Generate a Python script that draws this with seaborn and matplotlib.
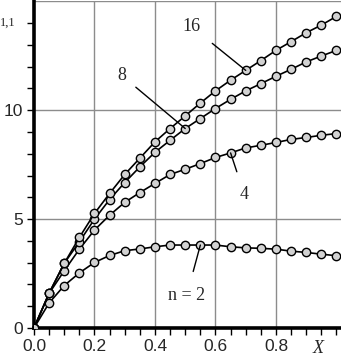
import numpy as np
import pandas as pd
import matplotlib
matplotlib.use("Agg")
import matplotlib.pyplot as plt
import seaborn as sns

# wartości
x_vals = [0.0, 0.05, 0.1, 0.15, 0.2, 0.25, 0.3, 0.35, 0.4, 0.45, 0.5,
          0.55, 0.6, 0.65, 0.7, 0.75, 0.8, 0.85, 0.9, 0.95, 1.0]
n2 = [0.0, 1.15, 1.95, 2.53, 3.01, 3.33, 3.55, 3.63, 3.73, 3.81, 3.81,
      3.81, 3.81, 3.73, 3.68, 3.66, 3.62, 3.53, 3.47, 3.39, 3.32]
n4 = [0.0, 1.59, 2.63, 3.62, 4.5, 5.18, 5.77, 6.22, 6.64, 7.05, 7.29,
      7.55, 7.83, 8.04, 8.27, 8.39, 8.52, 8.66, 8.75, 8.85, 8.93]
n8 = [0.0, 1.6, 2.97, 3.96, 5.0, 5.9, 6.68, 7.4, 8.07, 8.62, 9.16,
      9.62, 10.08, 10.5, 10.89, 11.22, 11.56, 11.88, 12.22, 12.49, 12.75]
n16 = [0.0, 1.6, 2.97, 4.16, 5.26, 6.18, 7.05, 7.8, 8.55, 9.16, 9.74,
       10.33, 10.89, 11.38, 11.83, 12.28, 12.75, 13.15, 13.56, 13.91, 14.31]
x_ticks = [0.0, 0.2, 0.4, 0.6, 0.8]
x_tick_labels = ["0.0", "0.2", "0.4", "0.6", "0.8"]
y_ticks = [0, 5, 10]

df = pd.DataFrame({
    "X": x_vals * 4,
    "val": n2 + n4 + n8 + n16,
    "n": ["2"] * 21 + ["4"] * 21 + ["8"] * 21 + ["16"] * 21,
})

sns.set_style("white")
fig = plt.figure(figsize=(3.41, 3.58), dpi=100)
ax = fig.add_axes([34 / 341, 30 / 358, 1 - 34 / 341, 1 - 30 / 358 - 0.002])

sns.lineplot(data=df, x="X", y="val", hue="n", palette=["black"] * 4,
             marker="o", markersize=6, markerfacecolor="#d2d2d2",
             markeredgecolor="black", markeredgewidth=1.0, linewidth=1.2,
             legend=False, ax=ax, zorder=3)

ax.set_xlim(0, 1.015)
ax.set_ylim(0, 15.03)
ax.set_xticks(x_ticks)
ax.set_xticklabels(x_tick_labels)
ax.set_xticks(np.arange(0, 1.01, 0.05), minor=True)
ax.set_yticks(y_ticks)
ax.set_yticks(np.arange(0, 15, 1), minor=True)
ax.set_xlabel("")
ax.set_ylabel("")

for v in [0.2, 0.4, 0.6, 0.8]:
    ax.axvline(v, color="#8c8c8c", lw=1.0, zorder=1)
for v in [5, 10, 15]:
    ax.axhline(v, color="#8c8c8c", lw=1.0, zorder=1)

for s in ["top", "right"]:
    ax.spines[s].set_visible(False)
for s in ["left", "bottom"]:
    ax.spines[s].set_linewidth(2.6)
    ax.spines[s].set_color("black")

ax.tick_params(which="both", direction="out", length=5, width=1.0,
               color="black", left=True, bottom=True)
ax.tick_params(which="major", labelsize=12.5, pad=3)
for lab in ax.get_xticklabels() + ax.get_yticklabels():
    lab.set_family("Liberation Sans")

serif = "Liberation Serif"
ax.text(-0.112, 14.0, "1,1", family=serif, fontsize=9, va="center")
ax.text(0.94, -0.95, "X", family=serif, style="italic", fontsize=13,
        ha="center", va="center")

ax.annotate("16", xy=(0.7, 11.83), xytext=(0.52, 13.85), family=serif,
            fontsize=13, ha="center", va="center",
            arrowprops=dict(arrowstyle="-", color="black", lw=1.0,
                            shrinkA=8, shrinkB=0))
ax.annotate("8", xy=(0.5, 9.16), xytext=(0.29, 11.6), family=serif,
            fontsize=13, ha="center", va="center",
            arrowprops=dict(arrowstyle="-", color="black", lw=1.0,
                            shrinkA=6, shrinkB=0))
ax.annotate("4", xy=(0.65, 8.04), xytext=(0.695, 6.15), family=serif,
            fontsize=13, ha="center", va="center",
            arrowprops=dict(arrowstyle="-", color="black", lw=1.0,
                            shrinkA=8, shrinkB=0))
ax.annotate("n = 2", xy=(0.55, 3.81), xytext=(0.505, 1.5), family=serif,
            fontsize=13, ha="center", va="center",
            arrowprops=dict(arrowstyle="-", color="black", lw=1.0,
                            shrinkA=9, shrinkB=0))

fig.savefig("out.png", dpi=100)
